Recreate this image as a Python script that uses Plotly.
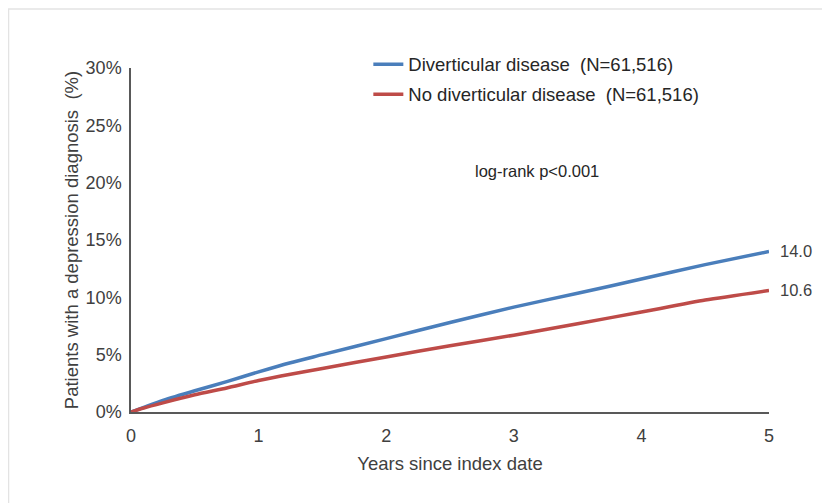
import plotly.graph_objects as go

years = [0, 0.1, 0.25, 0.5, 0.75, 1.0, 1.25, 1.5, 2.0, 2.5, 3.0, 3.5, 4.0, 4.5, 5.0]
diverticular = [0, 0.4, 1.0, 1.85, 2.65, 3.5, 4.3, 5.0, 6.4, 7.8, 9.15, 10.35, 11.6, 12.85, 14.0]
no_diverticular = [0, 0.35, 0.8, 1.5, 2.1, 2.75, 3.3, 3.8, 4.8, 5.78, 6.7, 7.7, 8.72, 9.76, 10.6]

names = ["Diverticular disease\u00a0\u00a0(N=61,516)", "No diverticular disease\u00a0\u00a0(N=61,516)"]
colors = ["#4a7ebb", "#be4b48"]
end_labels = ["14.0", "10.6"]
y_ticks = [0, 5, 10, 15, 20, 25, 30]
y_tick_text = ["0%", "5%", "10%", "15%", "20%", "25%", "30%"]
x_ticks = [0, 1, 2, 3, 4, 5]

fig = go.Figure()
for i, (ys, nm, col) in enumerate(zip([diverticular, no_diverticular], names, colors)):
    fig.add_trace(go.Scatter(x=years, y=ys, mode="lines", name=nm,
                             legendgroup=str(i),
                             line=dict(color=col, width=3.5, shape="spline", smoothing=0.6)))
    fig.add_annotation(x=years[-1], y=ys[-1], text=end_labels[i], showarrow=False,
                       xanchor="left", xshift=9, font=dict(size=16.5, color="#404040"))

fig.add_annotation(x=3.18, y=21.0, text="log-rank p<0.001", showarrow=False,
                   font=dict(size=16.5, color="#262626"))

# outer light border
fig.add_shape(type="rect", xref="paper", yref="paper",
              x0=-0.192, x1=1.2, y0=-0.3, y1=1.1715,
              line=dict(color="#e3e3e3", width=1.5), layer="below")

fig.update_layout(
    width=830, height=503,
    margin=dict(l=123, r=69, t=60, b=99),
    paper_bgcolor="white", plot_bgcolor="white",
    font=dict(family="Liberation Sans, Arial, sans-serif", color="#404040"),
    legend=dict(x=0.372, y=1.065, xanchor="left", yanchor="top",
                font=dict(size=18.5, color="#262626"), tracegroupgap=3,
                traceorder="grouped", bgcolor="rgba(0,0,0,0)", itemwidth=30),
    showlegend=True,
)
fig.update_xaxes(range=[0, 5], tickvals=x_ticks, showgrid=False, zeroline=False,
                 showline=True, linecolor="#595959", linewidth=1.5,
                 ticks="", tickfont=dict(size=18, color="#404040"), ticklabelstandoff=7,
                 title=dict(text="Years since index date", font=dict(size=18.5, color="#404040"), standoff=12))
fig.update_yaxes(range=[0, 30], tickvals=y_ticks, ticktext=y_tick_text, showgrid=False,
                 zeroline=False, showline=True, linecolor="#595959", linewidth=1.5,
                 ticks="", tickfont=dict(size=18, color="#404040"), ticklabelstandoff=4,
                 title=dict(text="Patients with a depression diagnosis\u00a0\u00a0(%)",
                            font=dict(size=18.5, color="#404040"), standoff=2))

fig.write_html("out.html")
